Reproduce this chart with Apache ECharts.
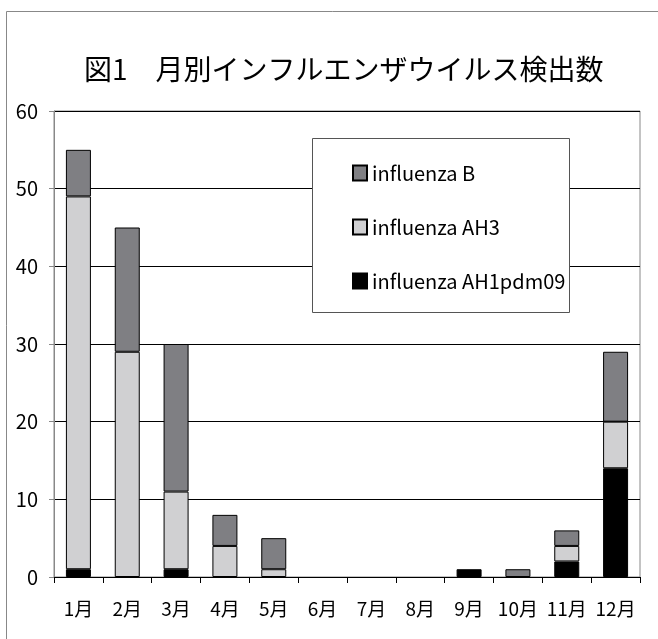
<!DOCTYPE html>
<html>
<head>
<meta charset="utf-8">
<script src="https://cdn.jsdelivr.net/npm/echarts@6/dist/echarts.min.js"></script>
<style>
  html, body { margin: 0; padding: 0; background: #fff; }
  #chart { width: 658px; height: 639px; }
</style>
</head>
<body>
<div id="chart"></div>
<script>
// Monthly influenza virus detections, by subtype
const months = ['1月', '2月', '3月', '4月', '5月', '6月', '7月', '8月', '9月', '10月', '11月', '12月'];
const ah1pdm09 = [1, 0, 1, 0, 0, 0, 0, 0, 1, 0, 2, 14];
const ah3      = [48, 29, 10, 4, 1, 0, 0, 0, 0, 0, 2, 6];
const fluB     = [6, 16, 19, 4, 4, 0, 0, 0, 0, 1, 2, 9];
const yTicks = [0, 10, 20, 30, 40, 50, 60];

const FONT = '"Noto Sans CJK JP", "Liberation Sans", sans-serif';

const chart = echarts.init(document.getElementById('chart'), null, { renderer: 'canvas' });

function stackSeries(name, data, color) {
  return {
    name: name,
    type: 'bar',
    stack: 'total',
    data: data.map(v => (v === 0 ? null : v)),
    barWidth: 25,
    itemStyle: { color: color, borderColor: '#000', borderWidth: 1 },
    emphasis: { disabled: true }
  };
}

chart.setOption({
  animation: false,
  backgroundColor: '#fff',
  textStyle: { fontFamily: FONT },
  title: {
    text: '図1　月別インフルエンザウイルス検出数',
    left: 79,
    top: 50,
    textStyle: { fontFamily: FONT, fontSize: 28, fontWeight: 'normal', color: '#000' }
  },
  graphic: [
    {
      type: 'rect', z: 0, silent: true,
      shape: { x: 6.5, y: 11.5, width: 700, height: 700 },
      style: { fill: 'none', stroke: '#888', lineWidth: 1 }
    },
    {
      type: 'rect', z: 3, silent: true,
      shape: { x: 312.5, y: 138.5, width: 257, height: 174 },
      style: { fill: '#fff', stroke: '#555', lineWidth: 1 }
    }
  ],
  legend: {
    orient: 'vertical',
    left: 347,
    top: 158,
    z: 5,
    data: ['influenza B', 'influenza AH3', 'influenza AH1pdm09'],
    icon: 'rect',
    itemWidth: 14,
    itemHeight: 15,
    itemGap: 34,
    selectedMode: false,
    textStyle: { fontFamily: FONT, fontSize: 20, lineHeight: 20, color: '#000' }
  },
  grid: { left: 54, right: 18, top: 111, bottom: 62, show: true, borderColor: '#888', borderWidth: 1, backgroundColor: 'transparent' },
  xAxis: {
    type: 'category',
    data: months,
    boundaryGap: true,
    axisLine: { lineStyle: { color: '#000', width: 1 } },
    axisTick: { show: true, alignWithLabel: false, length: 6, lineStyle: { color: '#000' } },
    axisLabel: { color: '#000', fontSize: 19, margin: 22, interval: 0, fontFamily: FONT }
  },
  yAxis: {
    type: 'value',
    min: yTicks[0],
    max: yTicks[yTicks.length - 1],
    interval: 10,
    axisLine: { show: true, lineStyle: { color: '#888', width: 1 } },
    axisTick: { show: true, length: 5, lineStyle: { color: '#888' } },
    axisLabel: { color: '#000', fontSize: 20, margin: 16, fontFamily: FONT },
    splitLine: { show: true, lineStyle: { color: '#000', width: 1 } }
  },
  series: [
    stackSeries('influenza AH1pdm09', ah1pdm09, '#000000'),
    stackSeries('influenza AH3', ah3, '#d0d0d2'),
    stackSeries('influenza B', fluB, '#7f7f83')
  ]
});
</script>
</body>
</html>
